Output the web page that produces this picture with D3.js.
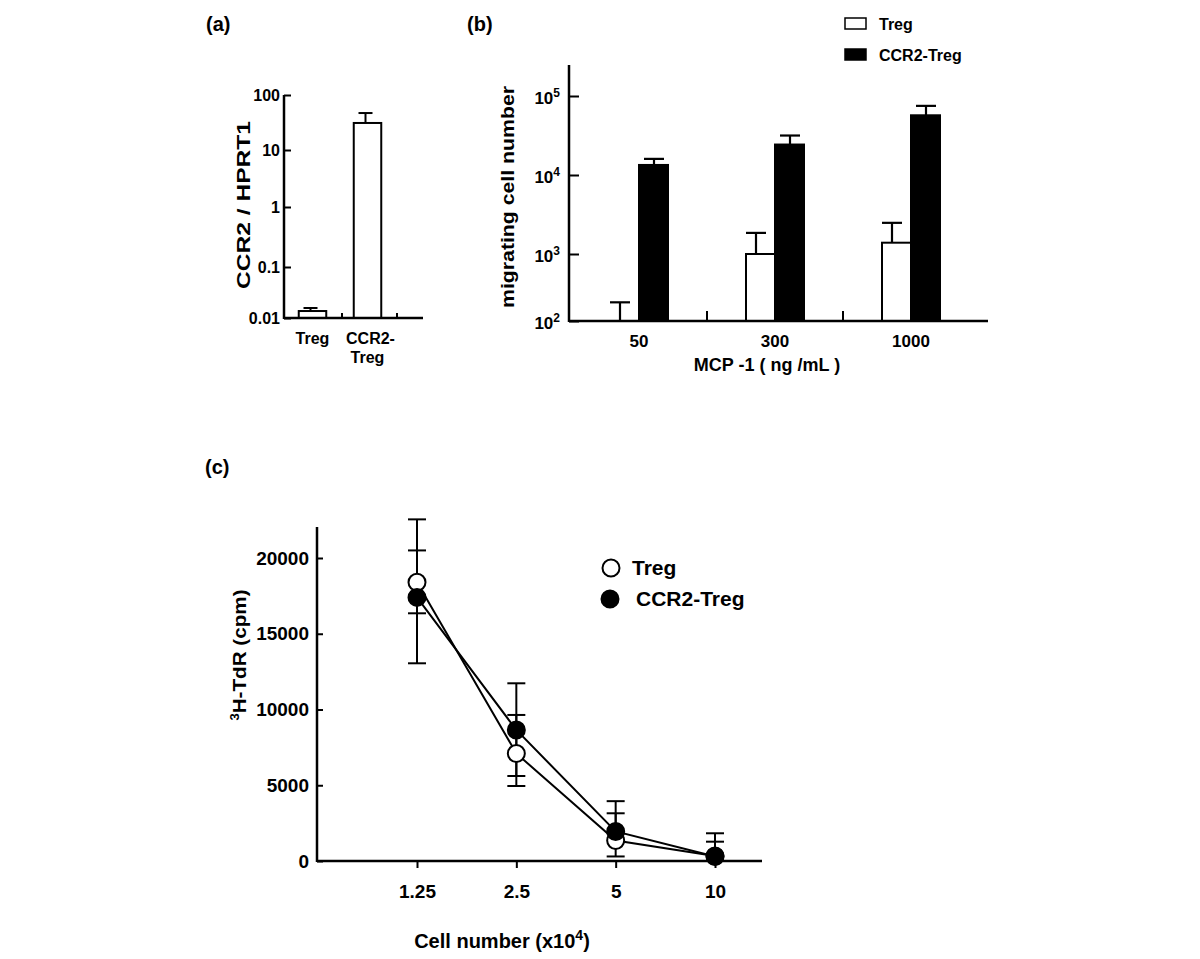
<!DOCTYPE html>
<html>
<head>
<meta charset="utf-8">
<script src="https://cdn.jsdelivr.net/npm/d3@7"></script>
<style>
  html, body { margin: 0; padding: 0; background: #fff; }
  svg text { font-family: "Liberation Sans", Arial, sans-serif; font-weight: bold; fill: #000; }
</style>
</head>
<body>
<svg id="chart" width="1200" height="959"></svg>
<script>
// ---------------- DATA ----------------
// Panel (a)
const aCategories = ["Treg", "CCR2-Treg"];
const aValues = [0.0137, 31];
const aErrHigh = [0.0157, 47];
const aTicks = [0.01, 0.1, 1, 10, 100];
const aTickLabels = ["0.01", "0.1", "1", "10", "100"];

// Panel (b)
const bGroups = ["50", "300", "1000"];
const bSeries = ["Treg", "CCR2-Treg"];
const bTreg = [100, 1000, 1390];
const bTregErr = [190, 1850, 2480];
const bCCR2 = [13400, 24300, 57000];
const bCCR2Err = [16000, 31600, 75000];
const bTicks = [1e2, 1e3, 1e4, 1e5];
const bTickExp = ["2", "3", "4", "5"];

// Panel (c)
const cDoses = [1.25, 2.5, 5, 10];
const cTickLabels = ["1.25", "2.5", "5", "10"];
const cTreg = [18400, 7100, 1350, 330];
const cTregHi = [20500, 9640, 3150, 1275];
const cTregLo = [16350, 4950, 300, 330];
const cCCR2 = [17400, 8650, 1950, 300];
const cCCR2Hi = [22550, 11730, 3950, 1830];
const cCCR2Lo = [13050, 5610, 1950, 300];
const cYTicks = [0, 5000, 10000, 15000, 20000];

// ---------------- DRAW ----------------
const svg = d3.select("#chart");
const AX = 2.5;

function styleAxis(g, sw) {
  g.select(".domain").remove();
  g.selectAll(".tick line").attr("stroke", "#000").attr("stroke-width", sw);
  g.selectAll(".tick text").attr("fill", "#000");
}

// ===== Panel (a) =====
(function () {
  const yA = d3.scaleLog().domain(aTicks).range([318, 267, 207, 150, 95]);
  const xA = d3.scaleBand().domain(aCategories).range([285, 395]).paddingInner(0.5).paddingOuter(0.25);
  const axisX = 284, base = yA(0.01);
  const g = svg.append("g");

  svg.append("text").attr("x", 206).attr("y", 31).attr("font-size", 20).text("(a)");

  // bars
  g.selectAll("rect.bar").data(aCategories).join("rect")
    .attr("x", d => xA(d)).attr("width", xA.bandwidth())
    .attr("y", (d, i) => yA(aValues[i]))
    .attr("height", (d, i) => base - yA(aValues[i]))
    .attr("fill", "#fff").attr("stroke", "#000").attr("stroke-width", 2);
  // error bars
  aCategories.forEach((d, i) => {
    const cx = xA(d) + xA.bandwidth() / 2 - 2;
    g.append("line").attr("x1", cx).attr("x2", cx).attr("y1", yA(aValues[i])).attr("y2", yA(aErrHigh[i]))
      .attr("stroke", "#000").attr("stroke-width", 2);
    g.append("line").attr("x1", cx - 7).attr("x2", cx + 7).attr("y1", yA(aErrHigh[i])).attr("y2", yA(aErrHigh[i]))
      .attr("stroke", "#000").attr("stroke-width", 2);
  });

  // y axis
  const ya = g.append("g").attr("transform", `translate(${axisX},0)`)
    .call(d3.axisLeft(yA).tickValues(aTicks).tickSize(-7).tickPadding(4)
      .tickFormat((d, i) => aTickLabels[i]));
  styleAxis(ya, 2);
  ya.selectAll(".tick text").attr("font-size", 16).attr("font-family", null);
  g.append("line").attr("x1", axisX).attr("x2", axisX).attr("y1", yA(100)).attr("y2", base + 1)
    .attr("stroke", "#000").attr("stroke-width", AX);
  g.append("line").attr("x1", axisX).attr("x2", 423).attr("y1", base).attr("y2", base)
    .attr("stroke", "#000").attr("stroke-width", AX);
  // separator ticks
  aCategories.forEach(d => {
    const tx = xA(d) + xA.bandwidth() / 2 + xA.step() / 2 + 2;
    g.append("line").attr("x1", tx).attr("x2", tx).attr("y1", base).attr("y2", base - 5)
      .attr("stroke", "#000").attr("stroke-width", 2);
  });
  // x labels
  const lab = g.append("g");
  lab.append("text").attr("x", xA("Treg") + xA.bandwidth() / 2).attr("y", 344)
    .attr("text-anchor", "middle").attr("font-size", 16).text("Treg");
  const t2 = lab.append("text").attr("x", xA("CCR2-Treg") + xA.bandwidth() / 2 + 3).attr("y", 344)
    .attr("text-anchor", "middle").attr("font-size", 16);
  t2.append("tspan").attr("x", xA("CCR2-Treg") + xA.bandwidth() / 2 + 3).text("CCR2-");
  t2.append("tspan").attr("x", xA("CCR2-Treg") + xA.bandwidth() / 2).attr("dy", 19).text("Treg");
  // y title
  g.append("text").attr("transform", "translate(250,205) rotate(-90)")
    .attr("text-anchor", "middle").attr("font-size", 19)
    .attr("textLength", 168).attr("lengthAdjust", "spacingAndGlyphs")
    .text("CCR2 / HPRT1");
})();

// ===== Panel (b) =====
(function () {
  const yB = d3.scaleLog().domain(bTicks).range([321, 254, 175, 96]);
  const xB = d3.scaleBand().domain(bGroups).range([571, 979]);
  const xS = d3.scaleBand().domain(bSeries).range([-30, 30]);
  const axisX = 569, base = yB(100);
  const g = svg.append("g");

  svg.append("text").attr("x", 467).attr("y", 31).attr("font-size", 20).text("(b)");

  const rows = bGroups.map((grp, i) => [
    { grp, s: "Treg", v: bTreg[i], e: bTregErr[i] },
    { grp, s: "CCR2-Treg", v: bCCR2[i], e: bCCR2Err[i] }
  ]).flat();

  const cen = grp => xB(grp) + xB.bandwidth() / 2;

  // error bars (behind bars)
  rows.forEach(r => {
    const cx = cen(r.grp) + xS(r.s) + xS.bandwidth() / 2 + (r.s === "Treg" ? -4 : 0);
    g.append("line").attr("x1", cx).attr("x2", cx).attr("y1", yB(r.v)).attr("y2", yB(r.e))
      .attr("stroke", "#000").attr("stroke-width", 2.2);
    g.append("line").attr("x1", cx - 10).attr("x2", cx + 10).attr("y1", yB(r.e)).attr("y2", yB(r.e))
      .attr("stroke", "#000").attr("stroke-width", 2.2);
  });
  // bars
  g.selectAll("rect.bar").data(rows).join("rect")
    .attr("x", r => cen(r.grp) + xS(r.s) + (r.s === "Treg" ? 1 : 0))
    .attr("width", xS.bandwidth() - 1)
    .attr("y", r => yB(r.v))
    .attr("height", r => base - yB(r.v))
    .attr("fill", r => r.s === "Treg" ? "#fff" : "#000")
    .attr("stroke", "#000").attr("stroke-width", 2);

  // y axis
  const ya = g.append("g").attr("transform", `translate(${axisX},0)`)
    .call(d3.axisLeft(yB).tickValues(bTicks).tickSize(-10).tickPadding(9).tickFormat(() => ""));
  styleAxis(ya, 2);
  ya.selectAll(".tick text").each(function (d, i) {
    const t = d3.select(this).attr("font-size", 17).attr("font-family", null).attr("font-weight", "normal").attr("dy", "0.45em");
    t.append("tspan").text("10");
    t.append("tspan").attr("font-size", 12).attr("dy", -7).text(bTickExp[i]);
  });
  g.append("line").attr("x1", axisX).attr("x2", axisX).attr("y1", 65).attr("y2", base + 1)
    .attr("stroke", "#000").attr("stroke-width", AX);
  g.append("line").attr("x1", axisX).attr("x2", 988).attr("y1", base).attr("y2", base)
    .attr("stroke", "#000").attr("stroke-width", AX);
  // separator ticks between groups
  bGroups.slice(1).forEach(grp => {
    g.append("line").attr("x1", xB(grp)).attr("x2", xB(grp)).attr("y1", base).attr("y2", base - 10)
      .attr("stroke", "#000").attr("stroke-width", 2);
  });
  // x labels
  bGroups.forEach(grp => {
    g.append("text").attr("x", cen(grp)).attr("y", 347).attr("text-anchor", "middle")
      .attr("font-size", 17).text(grp);
  });
  g.append("text").attr("x", 767).attr("y", 371).attr("text-anchor", "middle")
    .attr("font-size", 18).attr("xml:space", "preserve").text("MCP -1 ( ng /mL )");
  // y title
  g.append("text").attr("transform", "translate(514,197) rotate(-90)")
    .attr("text-anchor", "middle").attr("font-size", 18)
    .attr("textLength", 222).attr("lengthAdjust", "spacingAndGlyphs")
    .text("migrating cell number");
  // legend
  const lg = g.append("g");
  bSeries.forEach((s, i) => {
    lg.append("rect").attr("x", 845).attr("y", 18 + i * 31).attr("width", 21).attr("height", 11)
      .attr("fill", i === 0 ? "#fff" : "#000").attr("stroke", "#000").attr("stroke-width", 1.5);
    lg.append("text").attr("x", 879).attr("y", 30 + i * 31).attr("font-size", 16).text(s);
  });
})();

// ===== Panel (c) =====
(function () {
  const yC = d3.scaleLinear().domain([0, 20000]).range([861, 558]);
  const xC = d3.scaleLog().base(2).domain([1.25, 10]).range([417, 715]);
  const axisX = 317, base = yC(0);
  const g = svg.append("g");

  svg.append("text").attr("x", 205).attr("y", 474).attr("font-size", 20).text("(c)");

  // y axis
  const ya = g.append("g").attr("transform", `translate(${axisX},0)`)
    .call(d3.axisLeft(yC).tickValues(cYTicks).tickSize(-6).tickPadding(8).tickFormat(d3.format("d")));
  styleAxis(ya, 2);
  ya.selectAll(".tick text").attr("font-size", 19).attr("font-family", null);
  g.append("line").attr("x1", axisX).attr("x2", axisX).attr("y1", 527).attr("y2", base + 1)
    .attr("stroke", "#000").attr("stroke-width", AX);
  // x axis
  const xa = g.append("g").attr("transform", `translate(0,${base})`)
    .call(d3.axisBottom(xC).tickValues(cDoses).tickSize(7).tickPadding(17)
      .tickFormat((d, i) => cTickLabels[i]));
  styleAxis(xa, 2);
  xa.selectAll(".tick text").attr("font-size", 19).attr("font-family", null);
  g.append("line").attr("x1", axisX).attr("x2", 762).attr("y1", base).attr("y2", base)
    .attr("stroke", "#000").attr("stroke-width", AX);

  // titles
  const xt = g.append("text").attr("x", 502).attr("y", 948).attr("text-anchor", "middle").attr("font-size", 20);
  xt.append("tspan").text("Cell number (x10");
  xt.append("tspan").attr("font-size", 14).attr("dy", -8).text("4");
  xt.append("tspan").attr("dy", 8).text(")");
  const yt = g.append("text").attr("transform", "translate(246,655) rotate(-90)")
    .attr("text-anchor", "middle").attr("font-size", 19);
  yt.append("tspan").attr("font-size", 13).attr("dy", -7).text("3");
  yt.append("tspan").attr("dy", 7).attr("textLength", 124).attr("lengthAdjust", "spacingAndGlyphs").text("H-TdR (cpm)");

  const series = [
    { name: "Treg", v: cTreg, hi: cTregHi, lo: cTregLo, fill: "#fff" },
    { name: "CCR2-Treg", v: cCCR2, hi: cCCR2Hi, lo: cCCR2Lo, fill: "#000" }
  ];
  const line = d3.line().x(d => xC(d[0])).y(d => yC(d[1]));

  // lines
  series.forEach(s => {
    g.append("path").datum(cDoses.map((d, i) => [d, s.v[i]]))
      .attr("d", line).attr("fill", "none").attr("stroke", "#000").attr("stroke-width", 2);
  });
  // error bars
  series.forEach(s => {
    cDoses.forEach((d, i) => {
      const cx = xC(d);
      g.append("line").attr("x1", cx).attr("x2", cx).attr("y1", yC(s.lo[i])).attr("y2", yC(s.hi[i]))
        .attr("stroke", "#000").attr("stroke-width", 2);
      [s.hi[i], s.lo[i]].forEach(e => {
        if (e !== s.v[i]) {
          g.append("line").attr("x1", cx - 9).attr("x2", cx + 9).attr("y1", yC(e)).attr("y2", yC(e))
            .attr("stroke", "#000").attr("stroke-width", 2);
        }
      });
    });
  });
  // markers
  series.forEach(s => {
    g.selectAll(null).data(cDoses).join("circle")
      .attr("cx", d => xC(d)).attr("cy", (d, i) => yC(s.v[i])).attr("r", 8.5)
      .attr("fill", s.fill).attr("stroke", "#000").attr("stroke-width", 2);
  });

  // legend
  series.forEach((s, i) => {
    g.append("circle").attr("cx", 611 - i).attr("cy", 568 + i * 31).attr("r", 8.5)
      .attr("fill", s.fill).attr("stroke", "#000").attr("stroke-width", 2);
    g.append("text").attr("x", 632 + i * 4).attr("y", 575 + i * 31).attr("font-size", 21).text(s.name);
  });
})();
</script>
</body>
</html>
